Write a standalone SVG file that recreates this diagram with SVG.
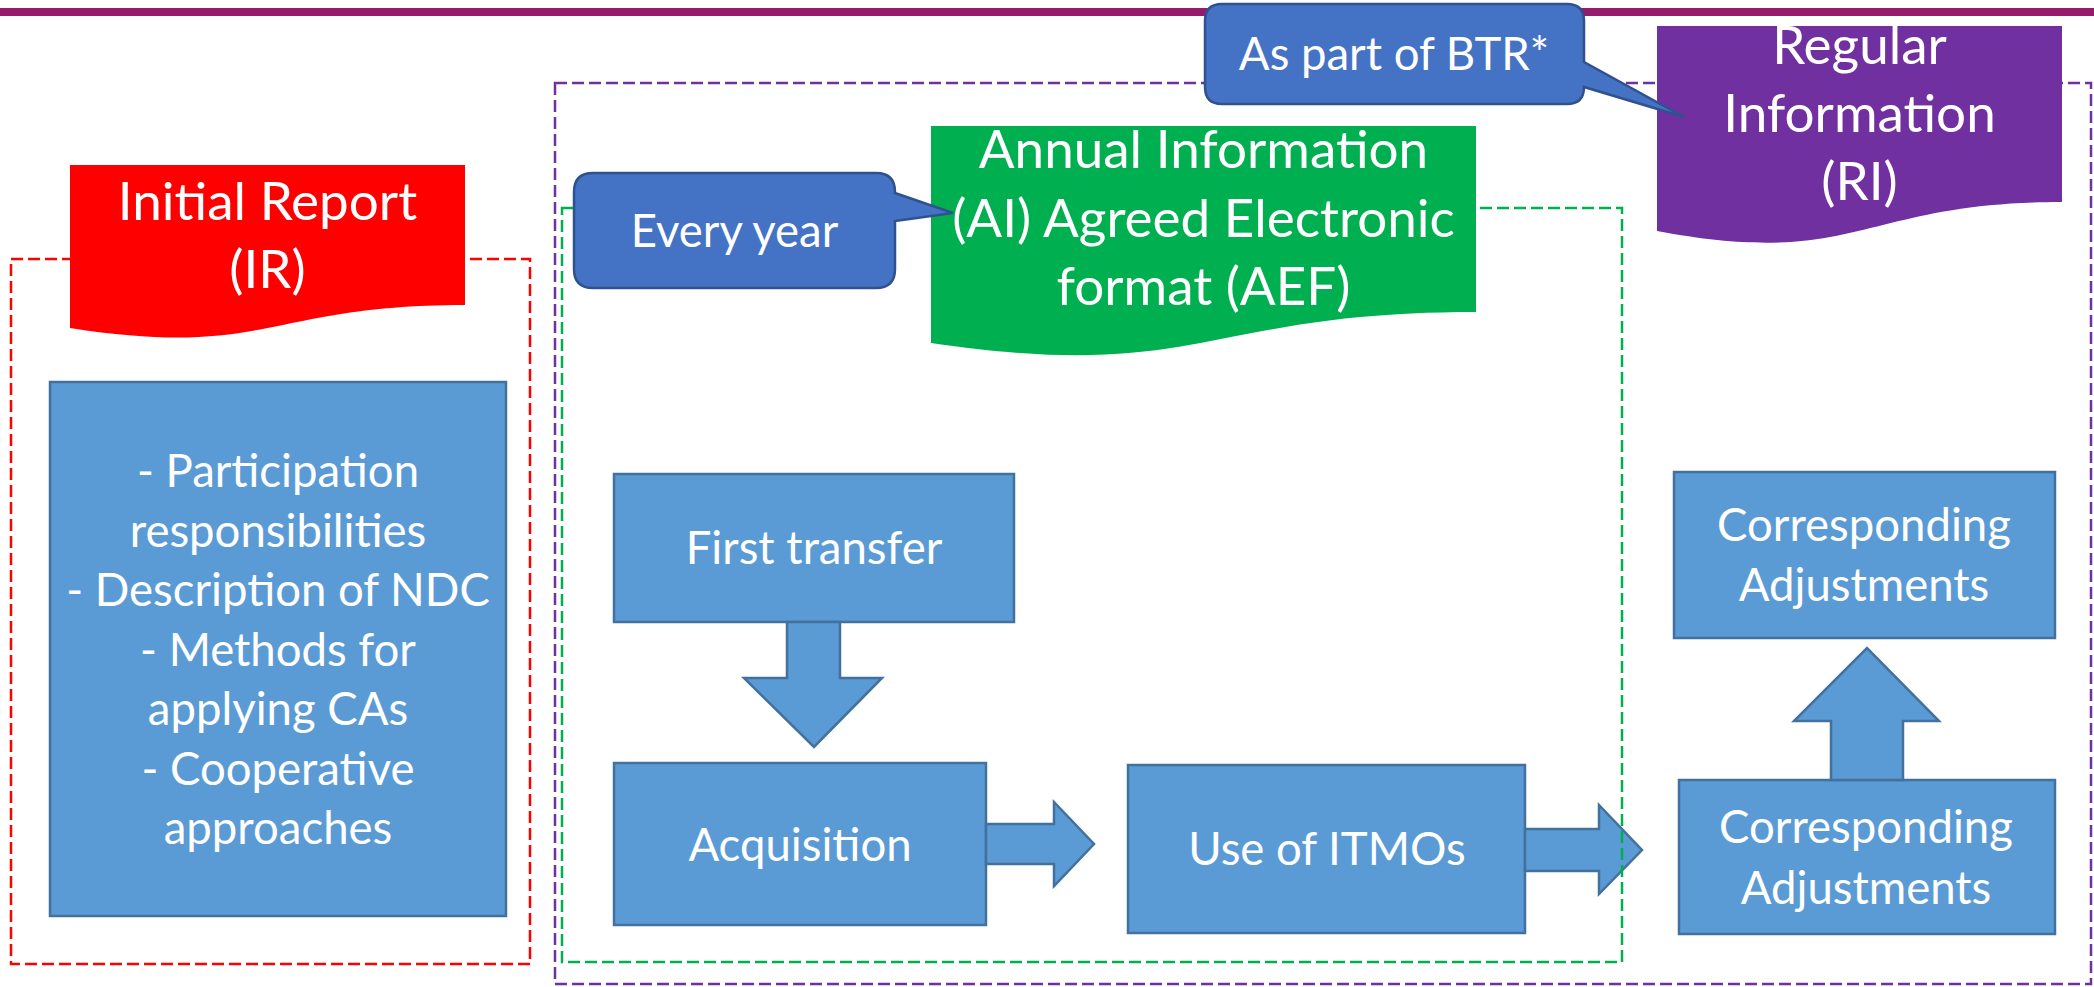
<svg xmlns="http://www.w3.org/2000/svg" width="2094" height="987" viewBox="0 0 2094 987">
<style>
.box{fill:#5B9BD5;stroke:#41719C;stroke-width:2.5}
.call{fill:#4472C4;stroke:#2F528F;stroke-width:2.5}
.t{font-family:Lato,"Liberation Sans",sans-serif;fill:#fff;text-anchor:middle}
.b{font-size:45.5px}
.h{font-size:53px}
.dash{fill:none;stroke-width:2.5;stroke-dasharray:12 5}
</style>
<rect width="2094" height="987" fill="#fff"/>
<rect x="0" y="8" width="2094" height="8" fill="#961B6C"/>

<g id="n-ir-content">
<rect class="box" x="50" y="382" width="456" height="534"/>
<text class="t b" x="278"><tspan x="278" y="487">- Participation</tspan><tspan x="278" y="546.5">responsibilities</tspan><tspan x="278" y="606">- Description of NDC</tspan><tspan x="278" y="665.5">- Methods for</tspan><tspan x="278" y="725">applying CAs</tspan><tspan x="278" y="784.5">- Cooperative</tspan><tspan x="278" y="844">approaches</tspan></text>
</g>
<g id="n-first-transfer">
<rect class="box" x="614" y="474" width="400" height="148"/>
<text class="t b" x="814" y="564">First transfer</text>
</g>
<g id="n-acquisition">
<rect class="box" x="614" y="763" width="372" height="162"/>
<text class="t b" x="800" y="861">Acquisition</text>
</g>
<g id="n-use-itmos">
<rect class="box" x="1128" y="765" width="397" height="168"/>
<text class="t b" x="1327" y="865">Use of ITMOs</text>
</g>
<g id="n-ca-top">
<rect class="box" x="1674" y="472" width="381" height="166"/>
<text class="t b" x="1864"><tspan x="1864" y="541">Corresponding</tspan><tspan x="1864" y="601">Adjustments</tspan></text>
</g>
<g id="n-ca-bottom">
<rect class="box" x="1679" y="780" width="376" height="154"/>
<text class="t b" x="1866"><tspan x="1866" y="843">Corresponding</tspan><tspan x="1866" y="904">Adjustments</tspan></text>
</g>

<g id="connectors">
<path class="box" d="M787,622 H840 V678 H882 L814,747 L744,678 H787 Z"/>
<path class="box" d="M986,824 H1054 V802 L1094,844 L1054,886 V864 H986 Z"/>
<path class="box" d="M1525,829 H1599 V805 L1642,850 L1599,894 V871 H1525 Z"/>
<path class="box" d="M1831,780 V721 H1794 L1867,648 L1939,721 H1903 V780 Z"/>
</g>

<g id="n-group-ir">
<rect class="dash" x="11" y="259" width="519" height="705" stroke="#FF0000"/>
</g>
<g id="n-group-ri">
<rect class="dash" x="555" y="83" width="1536" height="901" stroke="#7030A0"/>
</g>
<g id="n-group-ai">
<rect class="dash" x="562" y="208" width="1060" height="754" stroke="#00B050"/>
</g>

<g id="n-ir-title">
<path d="M70,165 H465 V305 C267.5,305 267.5,358.8 70,328 Z" fill="#FF0000"/>
<text class="t h" x="267.5"><tspan x="267.5" y="220">Initial Report</tspan><tspan x="267.5" y="288">(IR)</tspan></text>
</g>
<g id="n-ai-title">
<path d="M931,126 H1476 V312 C1203.5,312 1203.5,383 931,343 Z" fill="#00B050"/>
<text class="t h" x="1203.5"><tspan x="1203.5" y="168">Annual Information</tspan><tspan x="1203.5" y="237">(AI) Agreed Electronic</tspan><tspan x="1203.5" y="305">format (AEF)</tspan></text>
</g>
<g id="n-ri-title">
<path d="M1657,26 H2062 V202 C1859.5,202 1859.5,269 1657,231 Z" fill="#7030A0"/>
<text class="t h" x="1859.5"><tspan x="1859.5" y="64">Regular</tspan><tspan x="1859.5" y="132">Information</tspan><tspan x="1859.5" y="200">(RI)</tspan></text>
</g>
<g id="n-every-year">
<path class="call" d="M593,173 H876 Q895,173 895,192 V193 L953,213 L895,221 V269 Q895,288 876,288 H593 Q574,288 574,269 V192 Q574,173 593,173 Z"/>
<text class="t b" x="734.5" y="247">Every year</text>
</g>
<g id="n-btr">
<path class="call" d="M1222,4 H1567 Q1584,4 1584,21 V62 L1684,117 L1584,87 Q1584,104 1567,104 H1222 Q1205,104 1205,87 V21 Q1205,4 1222,4 Z"/>
<text class="t b" x="1394" y="70">As part of BTR*</text>
</g>
</svg>
